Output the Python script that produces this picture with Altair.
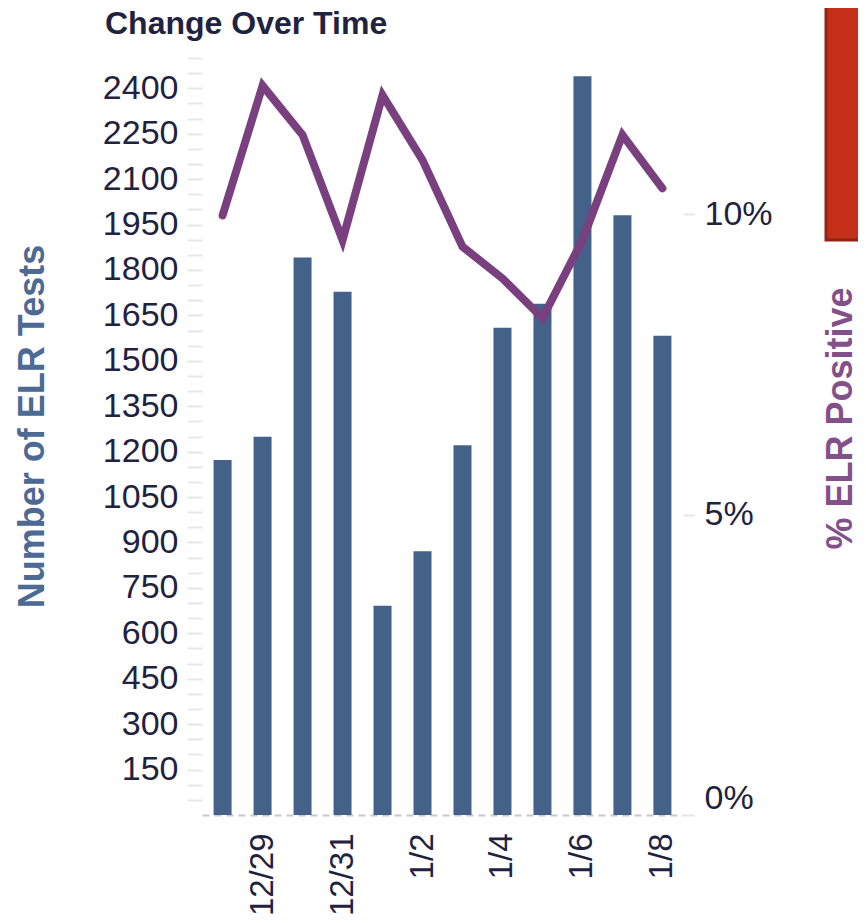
import altair as alt
import pandas as pd

dates = ["12/28", "12/29", "12/30", "12/31", "1/1", "1/2", "1/3", "1/4", "1/5", "1/6", "1/7", "1/8"]
tests = [1172, 1249, 1841, 1728, 691, 871, 1221, 1609, 1688, 2440, 1981, 1583]
pct_positive = [0.0998, 0.1214, 0.1132, 0.0957, 0.1198, 0.1090, 0.0946, 0.0893, 0.0827, 0.0957, 0.1132, 0.1043]
shown_dates = ["12/29", "12/31", "1/2", "1/4", "1/6", "1/8"]
left_tick_values = list(range(50, 2501, 50))
right_tick_values = [0, 0.05, 0.10]

df = pd.DataFrame({"date": dates, "tests": tests, "pct": pct_positive})

FONT = "Liberation Sans, Arial, sans-serif"
LABEL_COLOR = "#1f2340"
BAR_COLOR = "#446189"
LINE_COLOR = "#7a3f7e"

shown_expr = "indexof(" + str(shown_dates).replace("'", '"') + ", datum.value) >= 0 ? datum.value : ''"

x_enc = alt.X(
    "date:N",
    sort=None,
    scale=alt.Scale(paddingInner=0.55, paddingOuter=0.29),
    axis=alt.Axis(
        title=None,
        labelAngle=-90,
        labelFont=FONT,
        labelFontSize=33,
        labelColor=LABEL_COLOR,
        labelExpr=shown_expr,
        labelPadding=14,
        labelBaseline="middle",
        labelAlign="right",
        domainColor="#c8c8c8",
        domainDash=[7, 5],
        domainWidth=2,
        tickColor="#eeeeee",
        tickSize=4,
    ),
)

bars = alt.Chart(df).mark_bar(color=BAR_COLOR).encode(
    x=x_enc,
    y=alt.Y(
        "tests:Q",
        scale=alt.Scale(domain=[0, 2500], nice=False),
        axis=alt.Axis(
            orient="left",
            title="Number of ELR Tests",
            titleFont=FONT,
            titleFontSize=36,
            titleFontWeight="bold",
            titleColor="#4c6a94",
            titleX=-170,
            titleY=368,
            titleAngle=-90,
            titleBaseline="middle",
            titleAlign="center",
            values=left_tick_values,
            labelExpr="(datum.value % 150 == 0 && datum.value < 2500) ? datum.value : ''",
            labelFont=FONT,
            labelFontSize=34,
            labelColor=LABEL_COLOR,
            labelPadding=9,
            tickColor="#e6e6e6",
            tickSize=15,
            tickWidth=2,
            domain=False,
            grid=False,
        ),
    ),
)

line = alt.Chart(df).mark_line(color=LINE_COLOR, strokeWidth=8, strokeJoin="miter", strokeCap="round").encode(
    x=alt.X("date:N", sort=None),
    y=alt.Y(
        "pct:Q",
        scale=alt.Scale(domain=[0, 0.126], nice=False),
        axis=alt.Axis(
            orient="right",
            title="% ELR Positive",
            titleFont=FONT,
            titleFontSize=36,
            titleFontWeight="bold",
            titleColor="#84508a",
            titleX=157,
            titleY=360,
            titleAngle=-90,
            titleBaseline="middle",
            titleAlign="center",
            values=right_tick_values,
            format=".0%",
            labelFont=FONT,
            labelFontSize=34,
            labelColor=LABEL_COLOR,
            labelFlush=True,
            labelPadding=10,
            tickColor="#e6e6e6",
            tickSize=11,
            tickWidth=2,
            domain=False,
            grid=False,
        ),
    ),
)

red_box = alt.Chart(alt.Data(values=[{}])).mark_rect(
    color="#c42f1a", stroke="#932313", strokeWidth=3
).encode(
    x=alt.value(624), x2=alt.value(700), y=alt.value(-52), y2=alt.value(182)
)

chart = (
    alt.layer(bars, line, red_box)
    .resolve_scale(y="independent")
    .properties(
        width=481,
        height=757,
        autosize=alt.AutoSizeParams(type="none"),
        padding={"left": 194, "top": 50, "right": 175, "bottom": 100},
        title=alt.TitleParams(
            "Change Over Time",
            font=FONT,
            fontSize=32,
            fontWeight="bold",
            color=LABEL_COLOR,
            anchor="start",
            frame="group",
            dx=-97,
            dy=40,
        ),
    )
    .configure(background="white")
    .configure_view(stroke=None)
)

chart.save("out.html", embed_options={"renderer": "svg", "actions": False})
